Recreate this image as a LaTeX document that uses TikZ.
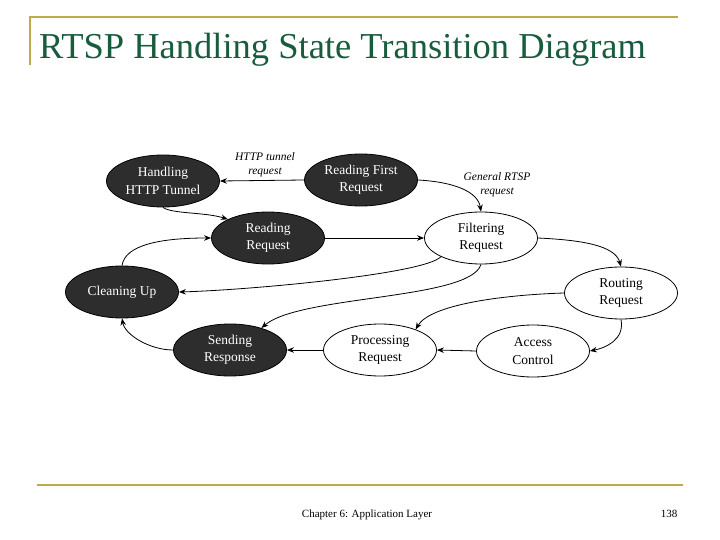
\documentclass[tikz,border=0pt]{standalone}
\usepackage{fontspec}
\setmainfont{Liberation Serif}
\usetikzlibrary{shapes.geometric,arrows.meta}
\definecolor{titlegreen}{RGB}{24,92,62}
\definecolor{gold}{RGB}{190,170,75}
\definecolor{statefill}{RGB}{45,45,45}
\tikzset{
  state/.style={ellipse, draw=black, line width=0.8pt, minimum width=113pt, minimum height=52pt,
    inner sep=0pt, align=center, font=\fontsize{13.5}{17.5}\selectfont},
  darkstate/.style={state, fill=statefill, text=white},
  lightstate/.style={state, fill=white, text=black},
  trans/.style={draw=black, line width=0.8pt, -{Stealth[length=7pt,width=5.5pt]}},
  elabel/.style={font=\fontsize{11.5}{14}\selectfont\itshape, align=center, inner sep=0pt},
  goldline/.style={draw=gold, line width=2pt}
}
\begin{document}
\begin{tikzpicture}[x=1pt,y=-1pt]
\useasboundingbox (0,0) rectangle (720,540);
% frame lines
\draw[goldline] (30,65) -- (30,17) -- (678,17);
\draw[goldline, line width=2.5pt] (37,485) -- (683,485);
% title and footer
\node[anchor=base west, inner sep=0pt, text=titlegreen, font=\fontsize{36.5}{40}\selectfont] (title) at (39,59) {RTSP Handling State Transition Diagram};
\node[anchor=base, inner sep=0pt, font=\fontsize{11}{13}\selectfont] (footer) at (367,517) {Chapter 6: Application Layer};
\node[anchor=base, inner sep=0pt, font=\fontsize{11}{13}\selectfont] (pageno) at (669,517) {138};
% states
\node[darkstate] (hht) at (163,181) {Handling\\HTTP Tunnel};
\node[darkstate] (rfr) at (361,180) {Reading First\\Request};
\node[darkstate] (rr) at (268,238) {Reading\\Request};
\node[lightstate] (fr) at (481,238) {Filtering\\Request};
\node[darkstate] (cu) at (122,292) {Cleaning Up};
\node[lightstate] (ro) at (621,293) {Routing\\Request};
\node[darkstate] (sr) at (230,350) {Sending\\Response};
\node[lightstate] (pr) at (380,350) {Processing\\Request};
\node[lightstate] (ac) at (533,351) {Access\\Control};
% transitions
\draw[trans] (rfr.west) -- (hht.east);
\node[elabel] (l1) at (265,165) {HTTP tunnel\\request};
\draw[trans] (rfr.east) .. controls (455,182) and (478,192) .. (fr.north);
\node[elabel] (l2) at (497,185) {General RTSP\\request};
\draw[trans] (hht.south) .. controls (172,214) and (205,212) .. (rr.155);
\draw[trans] (cu.north) .. controls (125,245) and (160,238) .. (rr.west);
\draw[trans] (rr.east) -- (fr.west);
\draw[trans] (fr.east) .. controls (580,240) and (615,245) .. (ro.north);
\draw[trans] (fr.205) .. controls (425,274) and (250,290) .. (cu.east);
\draw[trans] (fr.south) .. controls (470,300) and (300,295) .. (sr.35);
\draw[trans] (ro.west) .. controls (500,295) and (430,305) .. (pr.30);
\draw[trans] (ro.south) .. controls (625,340) and (605,348) .. (ac.east);
\draw[trans] (ac.west) -- (pr.east);
\draw[trans] (pr.west) -- (sr.east);
\draw[trans] (sr.west) .. controls (150,350) and (125,335) .. (cu.south);
\end{tikzpicture}
\end{document}
